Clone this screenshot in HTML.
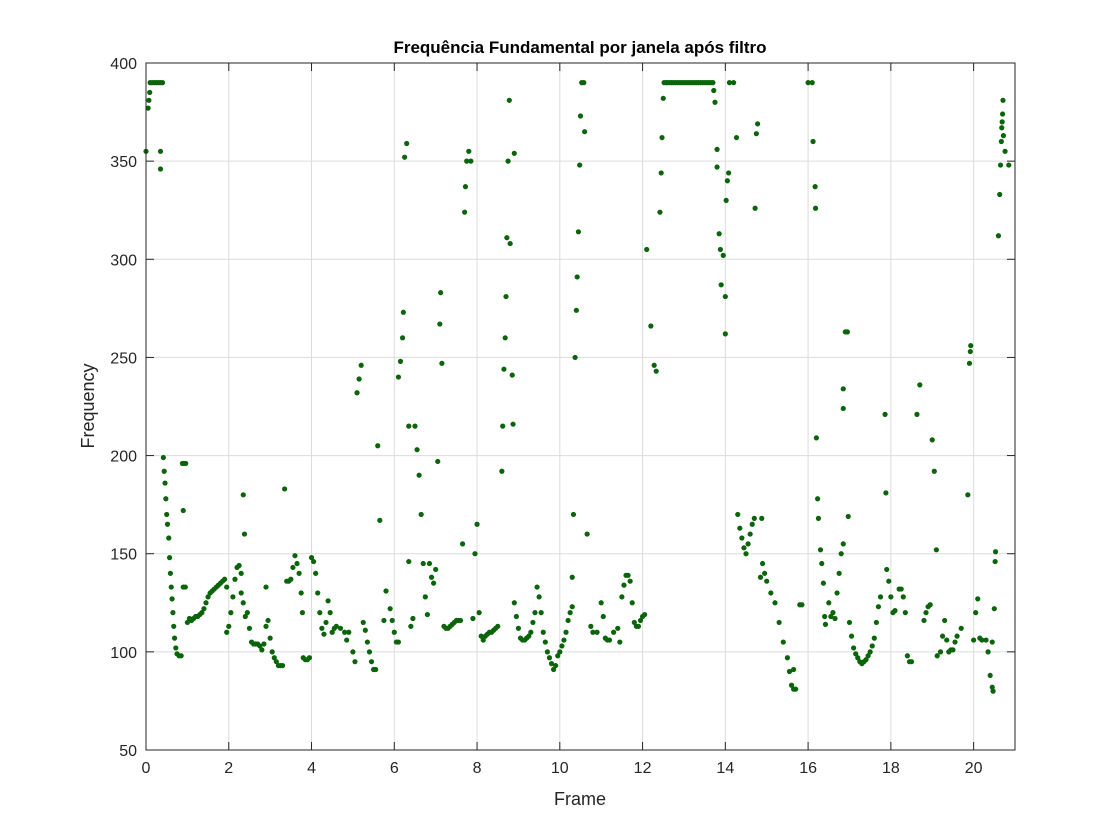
<!DOCTYPE html>
<html><head><meta charset="utf-8"><style>
body{margin:0;background:#fff;}
svg{display:block;font-family:"Liberation Sans",Arial,sans-serif;}
</style></head><body>
<svg id="chart" width="1120" height="840" xmlns="http://www.w3.org/2000/svg">
<rect x="0" y="0" width="1120" height="840" fill="#fff"/>
<g id="grid"></g>
<g id="marks"></g>
<rect x="146" y="63" width="869" height="687" fill="none" stroke="#262626" stroke-width="1"/>
<g id="axes"></g>
<text x="580" y="53" text-anchor="middle" font-size="17" font-weight="bold" fill="#000">Frequência Fundamental por janela após filtro</text>
<text x="580" y="805" text-anchor="middle" font-size="18" fill="#262626">Frame</text>
<text x="94" y="406" text-anchor="middle" font-size="18" fill="#262626" transform="rotate(-90 94 406)">Frequency</text>
</svg>
<script>
const xTicks=[0,2,4,6,8,10,12,14,16,18,20];
const yTicks=[50,100,150,200,250,300,350,400];
const samples=[
[0,355],[0.05,377],[0.07,381],[0.09,385],[0.1,390],[0.15,390],[0.2,390],[0.25,390],[0.3,390],[0.35,390],[0.4,390],[0.35,355],[0.35,346],
[0.42,199],[0.44,192],[0.46,186],[0.48,178],[0.5,170],[0.52,165],[0.55,158],[0.57,148],[0.59,140],[0.61,133],[0.63,127],[0.65,120],[0.67,113],[0.69,107],[0.72,102],[0.75,99],[0.8,98],[0.85,98],
[0.88,196],[0.92,196],[0.96,196],[0.9,172],[0.9,133],[0.95,133],
[1.0,115],[1.05,117],[1.1,116],[1.15,117],[1.2,118],[1.25,118],[1.3,119],[1.35,120],[1.4,122],[1.45,125],[1.5,128],[1.55,130],[1.6,131],[1.65,132],[1.7,133],[1.75,134],[1.8,135],[1.85,136],[1.9,137],[1.95,133],
[1.95,110],[2.0,113],[2.05,120],[2.1,128],[2.15,137],[2.2,143],[2.25,144],[2.3,140],[2.3,130],[2.35,125],[2.4,118],[2.35,180],[2.38,160],[2.45,120],[2.5,112],[2.55,105],[2.6,104],[2.65,104],[2.7,104],[2.75,103],[2.8,101],[2.85,104],[2.9,113],[2.9,133],[2.95,116],[3.0,107],[3.05,100],[3.1,97],[3.15,95],[3.2,93],[3.25,93],[3.3,93],[3.35,183],
[3.4,136],[3.45,136],[3.5,137],[3.55,143],[3.6,149],[3.65,145],[3.7,140],[3.75,130],[3.78,120],[3.8,97],[3.85,96],[3.9,96],[3.95,97],
[4.0,148],[4.05,146],[4.1,140],[4.15,130],[4.2,120],[4.25,112],[4.3,109],[4.35,115],[4.4,126],[4.45,120],[4.5,110],[4.55,112],[4.6,113],[4.7,112],[4.8,110],[4.85,106],[4.9,110],[5.0,100],[5.05,95],[5.1,232],[5.15,239],[5.2,246],
[5.25,115],[5.3,111],[5.35,105],[5.4,100],[5.45,95],[5.5,91],[5.55,91],[5.6,205],[5.65,167],[5.75,116],[5.8,131],[5.9,122],[5.95,116],[6.0,110],[6.05,105],[6.1,105],
[6.1,240],[6.15,248],[6.2,260],[6.22,273],[6.25,352],[6.3,359],[6.35,146],[6.35,215],[6.4,113],[6.45,117],[6.5,215],[6.55,203],[6.6,190],[6.65,170],[6.7,145],[6.75,128],[6.8,119],[6.85,145],[6.9,138],[6.95,135],[7.0,142],[7.05,197],[7.1,267],[7.12,283],[7.15,247],
[7.2,113],[7.25,112],[7.3,112],[7.35,113],[7.4,114],[7.45,115],[7.5,116],[7.55,116],[7.6,116],[7.65,155],[7.7,324],[7.72,337],[7.75,350],[7.8,355],[7.85,350],[7.9,117],[7.95,150],[8.0,165],
[8.05,120],[8.1,108],[8.15,106],[8.2,108],[8.25,109],[8.3,110],[8.35,110],[8.4,111],[8.45,112],[8.5,113],[8.6,192],[8.62,215],[8.65,244],[8.68,260],[8.7,281],[8.72,311],[8.75,350],[8.78,381],[8.8,308],[8.85,241],[8.87,216],[8.9,354],
[8.9,125],[8.95,118],[9.0,112],[9.05,107],[9.1,106],[9.15,106],[9.2,107],[9.25,108],[9.3,110],[9.35,115],[9.4,120],[9.45,133],[9.5,128],[9.55,120],[9.6,110],[9.65,105],[9.7,100],[9.75,97],[9.8,94],[9.85,91],[9.9,93],[9.95,98],[10.0,100],[10.05,103],[10.1,106],[10.15,110],[10.2,116],[10.25,120],[10.3,123],[10.3,138],[10.33,170],
[10.37,250],[10.4,274],[10.42,291],[10.45,314],[10.48,348],[10.5,373],[10.53,390],[10.58,390],[10.6,365],[10.66,160],
[10.75,113],[10.8,110],[10.9,110],[11.0,125],[11.05,118],[11.1,107],[11.15,106],[11.2,106],[11.3,110],[11.4,112],[11.45,105],[11.5,128],[11.55,134],[11.6,139],[11.65,139],[11.7,136],[11.75,125],[11.8,115],[11.85,113],[11.9,113],[11.95,116],[12.0,118],[12.05,119],
[12.1,305],[12.2,266],[12.28,246],[12.33,243],[12.42,324],[12.45,344],[12.47,362],[12.5,382],[12.52,390],
[12.6,390],[12.65,390],[12.7,390],[12.75,390],[12.8,390],[12.85,390],[12.9,390],[12.95,390],[13.0,390],[13.05,390],[13.1,390],[13.15,390],[13.2,390],[13.25,390],[13.3,390],[13.35,390],[13.4,390],[13.45,390],[13.5,390],[13.55,390],[13.6,390],[13.65,390],[13.7,390],[12.57,390],
[13.72,386],[13.75,380],[13.8,356],[13.8,347],[13.85,313],[13.88,305],[13.9,287],[13.95,302],[14.0,281],[14.0,262],[14.02,330],[14.05,340],[14.08,344],[14.1,390],[14.2,390],[14.27,362],
[14.3,170],[14.35,163],[14.4,158],[14.45,153],[14.5,150],[14.55,155],[14.6,160],[14.65,165],[14.7,168],[14.75,364],[14.78,369],[14.72,326],[14.85,138],[14.88,168],[14.9,145],[14.95,140],[15.0,136],[15.1,130],[15.2,125],[15.3,115],[15.4,105],[15.5,97],[15.55,90],[15.6,83],[15.65,81],[15.7,81],[15.65,91],[15.8,124],[15.85,124],
[16.0,390],[16.1,390],[16.12,360],[16.17,337],[16.18,326],[16.2,209],[16.23,178],[16.25,168],[16.3,152],[16.33,145],[16.37,135],[16.4,118],[16.42,114],[16.5,125],[16.55,118],[16.6,120],[16.65,117],[16.7,130],[16.75,140],[16.8,150],[16.85,155],[16.85,234],[16.85,224],[16.9,263],[16.95,263],[16.97,169],
[17.0,115],[17.05,108],[17.1,102],[17.15,99],[17.2,97],[17.25,95],[17.3,94],[17.35,95],[17.4,96],[17.45,98],[17.5,100],[17.55,103],[17.6,107],[17.65,115],[17.7,123],[17.75,128],[17.86,221],[17.88,181],
[17.9,142],[17.95,136],[18.0,128],[18.05,120],[18.1,121],[18.2,132],[18.25,132],[18.3,128],[18.35,120],[18.4,98],[18.45,95],[18.5,95],[18.63,221],[18.7,236],
[18.8,116],[18.85,120],[18.9,123],[18.95,124],[19.0,208],[19.05,192],[19.1,152],[19.12,98],[19.2,100],[19.25,108],[19.3,116],[19.35,106],[19.4,100],[19.45,101],[19.5,101],[19.55,105],[19.6,108],[19.7,112],[19.86,180],[19.9,247],[19.92,253],[19.93,256],
[20.0,106],[20.05,120],[20.1,127],[20.15,107],[20.2,106],[20.3,106],[20.35,100],[20.4,88],[20.45,82],[20.47,80],[20.45,105],[20.5,122],[20.52,146],[20.53,151],
[20.6,312],[20.63,333],[20.65,348],[20.67,360],[20.68,367],[20.69,370],[20.7,374],[20.71,381],[20.72,363],[20.76,355],[20.85,348]
];
const NS="http://www.w3.org/2000/svg";
const L=146,R=1015,T=63,B=750;
const xS=v=>L+(v-0)*(R-L)/21;
const yS=v=>B-(v-50)*(B-T)/350;
const grid=document.getElementById('grid'),axes=document.getElementById('axes'),marks=document.getElementById('marks');
function mk(tag,attrs,parent){const e=document.createElementNS(NS,tag);for(const k in attrs)e.setAttribute(k,attrs[k]);parent.appendChild(e);return e;}
xTicks.forEach(t=>{
  const x=xS(t);
  const g=mk('line',{x1:x,x2:x,y1:T,y2:B,stroke:'#dcdcdc','stroke-width':1},grid);
  
  
  const tk=mk('line',{x1:x,x2:x,y1:B,y2:B-8,stroke:'#262626'},axes);
  
  
  const tk2=mk('line',{x1:x,x2:x,y1:T,y2:T+8,stroke:'#262626'},axes);
  
  
  const lb=mk('text',{x:x,y:B+23,'text-anchor':'middle','font-size':16,fill:'#262626'},axes);
  lb.textContent=t;
  
  
});
yTicks.forEach(t=>{
  const y=yS(t);
  const g=mk('line',{x1:L,x2:R,y1:y,y2:y,stroke:'#dcdcdc','stroke-width':1},grid);
  
  
  const tk=mk('line',{x1:L,x2:L+8,y1:y,y2:y,stroke:'#262626'},axes);
  
  
  const tk2=mk('line',{x1:R,x2:R-8,y1:y,y2:y,stroke:'#262626'},axes);
  
  
  const lb=mk('text',{x:L-9,y:y+6,'text-anchor':'end','font-size':16,fill:'#262626'},axes);
  lb.textContent=t;
  
  
});
samples.forEach(p=>{
  const c=mk('circle',{cx:xS(p[0]),cy:yS(p[1]),r:2.6,fill:'#0a640a'},marks);
  
  
});
</script>
</body></html>
